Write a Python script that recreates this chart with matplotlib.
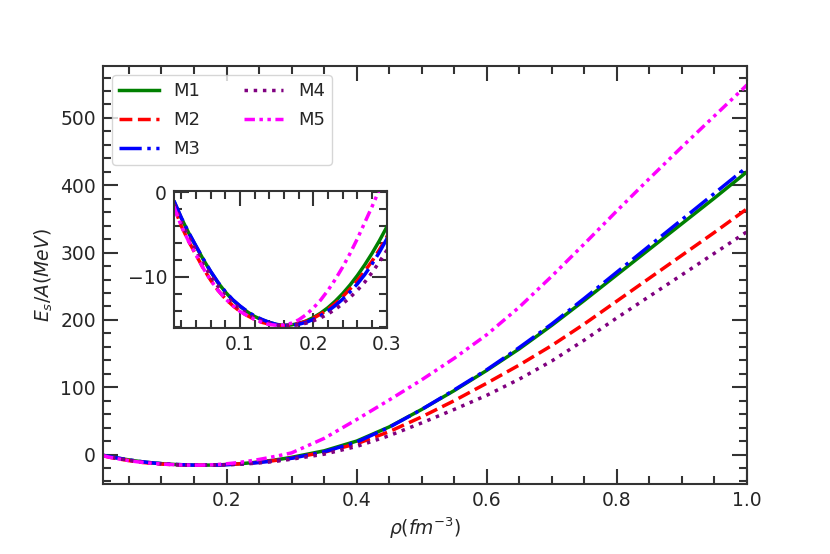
import matplotlib
matplotlib.use("Agg")
import matplotlib.pyplot as plt
from matplotlib.ticker import MultipleLocator

rho = [0.01, 0.02, 0.03, 0.04, 0.05, 0.06, 0.07, 0.08, 0.09, 0.10,
       0.11, 0.12, 0.13, 0.14, 0.15, 0.16, 0.17, 0.18, 0.19, 0.20,
       0.21, 0.22, 0.23, 0.24, 0.25, 0.26, 0.27, 0.28, 0.29, 0.30,
       0.35, 0.40, 0.45, 0.50, 0.55, 0.60, 0.65, 0.70, 0.75, 0.80,
       0.85, 0.90, 0.95, 1.00]

m1 = [-1.1, -3.05, -4.8, -6.4, -7.95, -9.4, -10.7, -11.8, -12.75, -13.5,
      -14.15, -14.7, -15.1, -15.4, -15.65, -15.75, -15.70, -15.53, -15.24, -14.83,
      -14.30, -13.65, -12.88, -11.99, -10.98, -9.85, -8.60, -7.23, -5.74, -4.13,
      5.5, 20, 41, 67, 95, 125, 157, 192, 229, 267,
      305, 343, 381, 420]

m2 = [-1.7, -4.0, -5.8, -7.4, -9.0, -10.4, -11.6, -12.6, -13.4, -14.1,
      -14.6, -15.05, -15.4, -15.6, -15.75, -15.8, -15.72, -15.55, -15.28, -14.9,
      -14.42, -13.84, -13.15, -12.35, -11.45, -10.45, -9.35, -8.15, -6.8, -5.3,
      3.5, 16, 34, 56, 80, 106, 133, 162, 194, 228,
      262, 296, 330, 365]

m3 = [-1.0, -3.0, -4.75, -6.35, -7.9, -9.35, -10.65, -11.75, -12.7, -13.45,
      -14.1, -14.65, -15.05, -15.4, -15.65, -15.75, -15.75, -15.62, -15.4, -15.05,
      -14.6, -14.05, -13.4, -12.65, -11.8, -10.85, -9.75, -8.5, -7.1, -5.55,
      4, 18.5, 40.5, 67, 96, 126, 159, 194, 232, 271,
      310, 349, 388, 427]

m4 = [-1.4, -3.5, -5.3, -6.9, -8.5, -9.9, -11.15, -12.2, -13.1, -13.8,
      -14.4, -14.9, -15.25, -15.5, -15.7, -15.8, -15.78, -15.68, -15.5, -15.22,
      -14.86, -14.4, -13.85, -13.2, -12.45, -11.6, -10.65, -9.5, -8.25, -6.9,
      0.5, 12, 28, 47, 67, 88, 112, 139, 170, 203,
      235, 267, 299, 331]

m5 = [-1.7, -4.0, -5.8, -7.4, -9.0, -10.4, -11.6, -12.6, -13.4, -14.1,
      -14.6, -15.05, -15.4, -15.65, -15.75, -15.7, -15.5, -15.1, -14.5, -13.7,
      -12.75, -11.6, -10.3, -8.85, -7.25, -5.5, -3.6, -1.7, 0.3, 2.5,
      24, 52, 81, 111, 143, 178, 219, 265, 313, 362,
      410, 457, 503, 549]

labels = ["M1", "M2", "M3", "M4", "M5"]
series = [m1, m2, m3, m4, m5]
colors = ["green", "red", "blue", "purple", "magenta"]
styles = ["-", (0, (3.7, 1.6)), (0, (6.4, 1.6, 1.0, 1.6)), (0, (1.0, 1.65)),
          (0, (3.0, 1.3, 1.0, 1.3, 1.0, 1.3))]

TXT = "#262626"
plt.rcParams.update({
    "font.family": "DejaVu Sans",
    "font.size": 13,
    "text.color": TXT,
    "axes.labelcolor": TXT,
    "xtick.color": "#333333",
    "ytick.color": "#333333",
    "xtick.labelcolor": TXT,
    "ytick.labelcolor": TXT,
    "axes.edgecolor": "#333333",
    "axes.linewidth": 1.5,
})

fig = plt.figure(figsize=(8.3, 5.54), dpi=100)
ax = fig.add_axes([0.124, 0.126, 0.776, 0.755])

for y, lab, c, ls in zip(series, labels, colors, styles):
    ax.plot(rho, y, color=c, linestyle=ls, linewidth=2.5, label=lab)

ax.set_xlim(0.01, 1.0)
ax.xaxis.set_major_locator(MultipleLocator(0.2))
ax.xaxis.set_minor_locator(MultipleLocator(0.05))
ax.yaxis.set_major_locator(MultipleLocator(100))
ax.yaxis.set_minor_locator(MultipleLocator(20))

def style_ticks(a):
    a.tick_params(which="both", direction="in", top=True, right=True, labelsize=13.5)
    a.tick_params(which="major", length=10.5, width=1.5, pad=5)
    a.tick_params(which="minor", length=5.5, width=1.5)

style_ticks(ax)
ax.set_xlabel(r"$\rho(fm^{-3})$", fontsize=13.5)
ax.set_ylabel(r"$E_s/A(MeV)$", fontsize=13.5)

leg = ax.legend(loc="upper left", ncol=2, fontsize=13, handlelength=2.2,
                columnspacing=2.4, labelspacing=0.6, borderaxespad=0.5,
                fancybox=True, framealpha=0.8, edgecolor="#cccccc")

ins = fig.add_axes([0.2096, 0.4074, 0.2563, 0.2478])
for y, c, ls in zip(series, colors, styles):
    ins.plot(rho, y, color=c, linestyle=ls, linewidth=2.5)
ins.set_xlim(0.01, 0.3)
ins.set_ylim(-16.1, 0.15)
ins.xaxis.set_major_locator(MultipleLocator(0.1))
ins.xaxis.set_minor_locator(MultipleLocator(0.02))
ins.yaxis.set_major_locator(MultipleLocator(10))
ins.yaxis.set_minor_locator(MultipleLocator(2))
style_ticks(ins)

fig.savefig("out.png", dpi=100)
